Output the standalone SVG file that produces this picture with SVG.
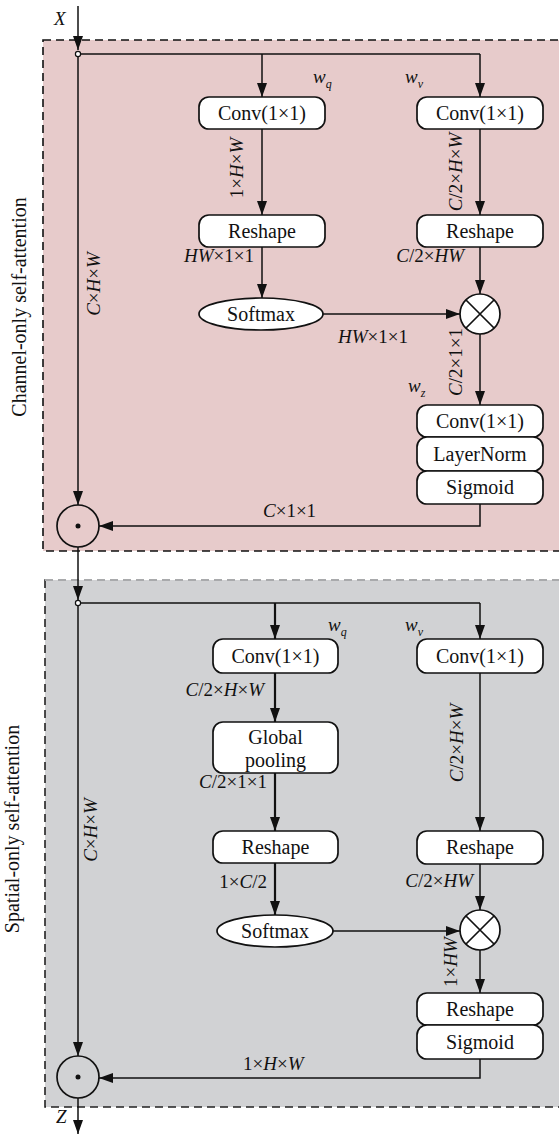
<svg xmlns="http://www.w3.org/2000/svg" width="559" height="1137" viewBox="0 0 559 1137">
<style>
.box{fill:#fff;stroke:#111;stroke-width:1.7}
.bt{font-family:"Liberation Serif",Tinos,"Times New Roman","DejaVu Serif",serif;font-size:20px;fill:#111;text-anchor:middle}
.lb{font-family:"Liberation Serif",Tinos,"Times New Roman","DejaVu Serif",serif;font-size:19px;fill:#111}
.side{font-family:"Liberation Serif",Tinos,"Times New Roman","DejaVu Serif",serif;font-size:20px;fill:#111;text-anchor:middle}
.ln{fill:none;stroke:#111;stroke-width:1.5}
.thk{stroke-width:2.2}
.op{fill:#fff;stroke:#111;stroke-width:1.7}
</style>
<defs>
<marker id="ah" markerUnits="userSpaceOnUse" markerWidth="14" markerHeight="10" refX="14" refY="5" orient="auto">
<path d="M0,0 L14,5 L0,10 z" fill="#111"/>
</marker>
</defs>

<g id="panel-channel">
<rect x="43" y="40" width="530" height="511" fill="#e7cbcb" stroke="#111" stroke-width="1.6" stroke-dasharray="8 5"/>
<text class="side" transform="translate(26,307) rotate(-90)">Channel-only self-attention</text>
</g>
<g id="panel-spatial">
<rect x="45" y="580" width="530" height="527" fill="#d1d2d4" stroke="#222" stroke-width="1.6" stroke-dasharray="8 5"/>
<line x1="45" y1="580" x2="559" y2="580" stroke="#a9aaac" stroke-width="1.8" stroke-dasharray="8 5"/>
<text class="side" transform="translate(19,829) rotate(-90)">Spatial-only self-attention</text>
</g>

<g id="connectors">
<!-- top panel -->
<line class="ln" x1="78" y1="6" x2="78" y2="50" marker-end="url(#ah)"/>
<line class="ln" x1="78" y1="54" x2="480" y2="54"/>
<line class="ln" x1="262" y1="54" x2="262" y2="97" marker-end="url(#ah)"/>
<line class="ln" x1="480" y1="54" x2="480" y2="97" marker-end="url(#ah)"/>
<line class="ln" x1="262" y1="129" x2="262" y2="215" marker-end="url(#ah)"/>
<line class="ln" x1="480" y1="129" x2="480" y2="215" marker-end="url(#ah)"/>
<line class="ln" x1="262" y1="247" x2="262" y2="298" marker-end="url(#ah)"/>
<line class="ln" x1="480" y1="247" x2="480" y2="294" marker-end="url(#ah)"/>
<line class="ln" x1="323" y1="314" x2="460" y2="314" marker-end="url(#ah)"/>
<line class="ln" x1="480" y1="334" x2="480" y2="405" marker-end="url(#ah)"/>
<polyline class="ln" points="480,504 480,526 99,526" marker-end="url(#ah)"/>
<line class="ln" x1="78" y1="57" x2="78" y2="505" marker-end="url(#ah)"/>
<line class="ln" x1="78" y1="547" x2="78" y2="600" marker-end="url(#ah)"/>
<circle cx="78" cy="54" r="2.6" fill="#fff" stroke="#111" stroke-width="1.2"/>
<!-- bottom panel -->
<line class="ln" x1="78" y1="603" x2="480" y2="603"/>
<line class="ln thk" x1="275" y1="603" x2="275" y2="639" marker-end="url(#ah)"/>
<line class="ln" x1="480" y1="603" x2="480" y2="639" marker-end="url(#ah)"/>
<line class="ln thk" x1="275" y1="673" x2="275" y2="722" marker-end="url(#ah)"/>
<line class="ln thk" x1="275" y1="773" x2="275" y2="831" marker-end="url(#ah)"/>
<line class="ln thk" x1="275" y1="863" x2="275" y2="915" marker-end="url(#ah)"/>
<line class="ln" x1="480" y1="673" x2="480" y2="831" marker-end="url(#ah)"/>
<line class="ln" x1="480" y1="864" x2="480" y2="910" marker-end="url(#ah)"/>
<line class="ln" x1="333" y1="931" x2="460" y2="931" marker-end="url(#ah)"/>
<line class="ln" x1="480" y1="950" x2="480" y2="993" marker-end="url(#ah)"/>
<polyline class="ln" points="480,1059 480,1078 99,1078" marker-end="url(#ah)"/>
<line class="ln" x1="78" y1="606" x2="78" y2="1056" marker-end="url(#ah)"/>
<line class="ln" x1="78" y1="1098" x2="78" y2="1134" marker-end="url(#ah)"/>
<circle cx="78" cy="603" r="2.6" fill="#fff" stroke="#111" stroke-width="1.2"/>
</g>

<g id="labels">
<text class="lb" x="54" y="25" font-style="italic">X</text>
<text class="lb" x="56" y="1123" font-style="italic">Z</text>
<text class="lb" x="313" y="83" font-style="italic">w<tspan font-size="12" dy="5">q</tspan></text>
<text class="lb" x="405" y="83" font-style="italic">w<tspan font-size="12" dy="5">v</tspan></text>
<text class="lb" x="408" y="392" font-style="italic">w<tspan font-size="12" dy="5">z</tspan></text>
<text class="lb" x="328" y="631" font-style="italic">w<tspan font-size="12" dy="5">q</tspan></text>
<text class="lb" x="405" y="631" font-style="italic">w<tspan font-size="12" dy="5">v</tspan></text>

<text class="lb" text-anchor="middle" transform="translate(243,168) rotate(-90)">1×<tspan font-style="italic">H</tspan>×<tspan font-style="italic">W</tspan></text>
<text class="lb" text-anchor="middle" transform="translate(462,172) rotate(-90)"><tspan font-style="italic">C</tspan>/2×<tspan font-style="italic">H</tspan>×<tspan font-style="italic">W</tspan></text>
<text class="lb" text-anchor="middle" transform="translate(100,284) rotate(-90)"><tspan font-style="italic">C</tspan>×<tspan font-style="italic">H</tspan>×<tspan font-style="italic">W</tspan></text>
<text class="lb" text-anchor="middle" transform="translate(462,362) rotate(-90)"><tspan font-style="italic">C</tspan>/2×1×1</text>
<text class="lb" text-anchor="end" x="254" y="262"><tspan font-style="italic">HW</tspan>×1×1</text>
<text class="lb" text-anchor="end" x="464" y="262"><tspan font-style="italic">C</tspan>/2×<tspan font-style="italic">HW</tspan></text>
<text class="lb" x="338" y="343"><tspan font-style="italic">HW</tspan>×1×1</text>
<text class="lb" x="263" y="517"><tspan font-style="italic">C</tspan>×1×1</text>

<text class="lb" text-anchor="end" x="264" y="696"><tspan font-style="italic">C</tspan>/2×<tspan font-style="italic">H</tspan>×<tspan font-style="italic">W</tspan></text>
<text class="lb" text-anchor="end" x="267" y="788"><tspan font-style="italic">C</tspan>/2×1×1</text>
<text class="lb" text-anchor="end" x="267" y="888">1×<tspan font-style="italic">C</tspan>/2</text>
<text class="lb" text-anchor="end" x="473" y="887"><tspan font-style="italic">C</tspan>/2×<tspan font-style="italic">HW</tspan></text>
<text class="lb" text-anchor="middle" transform="translate(463,743) rotate(-90)"><tspan font-style="italic">C</tspan>/2×<tspan font-style="italic">H</tspan>×<tspan font-style="italic">W</tspan></text>
<text class="lb" text-anchor="middle" transform="translate(457,962) rotate(-90)">1×<tspan font-style="italic">HW</tspan></text>
<text class="lb" text-anchor="middle" transform="translate(97,830) rotate(-90)"><tspan font-style="italic">C</tspan>×<tspan font-style="italic">H</tspan>×<tspan font-style="italic">W</tspan></text>
<text class="lb" x="243" y="1070">1×<tspan font-style="italic">H</tspan>×<tspan font-style="italic">W</tspan></text>
</g>

<!-- top panel nodes -->
<g id="conv-q1"><rect class="box" x="199" y="97" width="126" height="32" rx="10"/><text class="bt" x="262" y="120">Conv(1×1)</text></g>
<g id="conv-v1"><rect class="box" x="417" y="97" width="126" height="32" rx="10"/><text class="bt" x="480" y="120">Conv(1×1)</text></g>
<g id="reshape-q1"><rect class="box" x="199" y="215" width="126" height="32" rx="10"/><text class="bt" x="262" y="238">Reshape</text></g>
<g id="reshape-v1"><rect class="box" x="417" y="215" width="126" height="32" rx="10"/><text class="bt" x="480" y="238">Reshape</text></g>
<g id="softmax1"><ellipse class="box" cx="261" cy="314" rx="62" ry="16"/><text class="bt" x="261" y="321">Softmax</text></g>
<g id="mul1"><circle class="op" cx="480" cy="314" r="20"/><path d="M466,300 L494,328 M494,300 L466,328" stroke="#111" stroke-width="1.7"/></g>
<g id="stack1">
<rect class="box" x="417" y="405" width="126" height="32" rx="10"/><text class="bt" x="480" y="428">Conv(1×1)</text>
<rect class="box" x="417" y="437" width="126" height="34" rx="10"/><text class="bt" x="480" y="461">LayerNorm</text>
<rect class="box" x="417" y="471" width="126" height="33" rx="10"/><text class="bt" x="480" y="494">Sigmoid</text>
</g>
<g id="odot1"><circle cx="78" cy="526" r="21" fill="#e7cbcb" stroke="#111" stroke-width="1.7"/><circle cx="78" cy="526" r="2.5" fill="#111"/></g>

<!-- bottom panel nodes -->
<g id="conv-q2"><rect class="box" x="213" y="639" width="125" height="34" rx="10"/><text class="bt" x="275.5" y="663">Conv(1×1)</text></g>
<g id="conv-v2"><rect class="box" x="417" y="639" width="126" height="34" rx="10"/><text class="bt" x="480" y="663">Conv(1×1)</text></g>
<g id="gpool"><rect class="box" x="213" y="722" width="125" height="51" rx="10"/><text class="bt" x="275.5" y="744">Global</text><text class="bt" x="275.5" y="767">pooling</text></g>
<g id="reshape-q2"><rect class="box" x="213" y="831" width="125" height="32" rx="10"/><text class="bt" x="275.5" y="854">Reshape</text></g>
<g id="reshape-v2"><rect class="box" x="417" y="831" width="126" height="33" rx="10"/><text class="bt" x="480" y="854">Reshape</text></g>
<g id="softmax2"><ellipse class="box" cx="275" cy="931" rx="58" ry="16"/><text class="bt" x="275" y="938">Softmax</text></g>
<g id="mul2"><circle class="op" cx="480" cy="930" r="20"/><path d="M466,916 L494,944 M494,916 L466,944" stroke="#111" stroke-width="1.7"/></g>
<g id="stack2">
<rect class="box" x="417" y="993" width="126" height="32" rx="10"/><text class="bt" x="480" y="1016">Reshape</text>
<rect class="box" x="417" y="1025" width="126" height="34" rx="10"/><text class="bt" x="480" y="1049">Sigmoid</text>
</g>
<g id="odot2"><circle cx="78" cy="1077" r="21" fill="#d1d2d4" stroke="#111" stroke-width="1.7"/><circle cx="78" cy="1077" r="2.5" fill="#111"/></g>
</svg>
